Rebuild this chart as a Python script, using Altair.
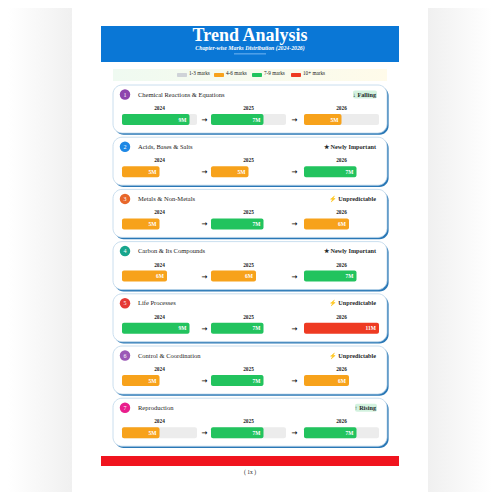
import altair as alt
import pandas as pd

# ---------------- data ----------------
chapters = ["Chemical Reactions & Equations", "Acids, Bases & Salts", "Metals & Non-Metals",
            "Carbon & Its Compounds", "Life Processes", "Control & Coordination", "Reproduction"]
years = ["2024", "2025", "2026"]
marks_2024 = [9, 5, 5, 6, 9, 5, 5]
marks_2025 = [7, 5, 7, 6, 7, 7, 7]
marks_2026 = [5, 7, 6, 7, 11, 6, 7]
trends = ["↓ Falling", "★ Newly Important", "⚡ Unpredictable", "★ Newly Important",
          "⚡ Unpredictable", "⚡ Unpredictable", "↑ Rising"]
badge_colors = ["#8e44ad", "#1e88e5", "#e8672a", "#17a58c", "#e53935", "#9b59b6", "#e91e8c"]
legend_labels = ["1-3 marks", "4-6 marks", "7-9 marks", "10+ marks"]
legend_colors = ["#cfd3d8", "#f7a21b", "#22c35e", "#ee3a22"]
title = "Trend Analysis"
subtitle = "Chapter-wise Marks Distribution (2024-2026)"
footer = "( 1x )"

# ---------------- layout ----------------
XS = alt.Scale(domain=[8, 492])
YS = alt.Scale(domain=[8, 492], reverse=True)
SERIF = "Liberation Serif"
CARD_X0, CARD_X1 = 113, 387
TOP0, STEP, CARD_H = 85, 52.2, 48
BAR_START = [122, 211, 304]
BAR_W = 75
SCALE_MAX = 10
TRACK_ROWS = [0, 6]


def rects(df, **kw):
    return alt.Chart(df).mark_rect(**kw).encode(
        x=alt.X("x:Q", scale=XS, axis=None), x2="x2:Q",
        y=alt.Y("y:Q", scale=YS, axis=None), y2="y2:Q")


def texts(df, **kw):
    return alt.Chart(df).mark_text(**kw).encode(
        x=alt.X("x:Q", scale=XS, axis=None),
        y=alt.Y("y:Q", scale=YS, axis=None),
        text="t:N")


def one(**d):
    return pd.DataFrame([d])


def cat(v):
    if v <= 3:
        return legend_labels[0]
    if v <= 6:
        return legend_labels[1]
    if v <= 9:
        return legend_labels[2]
    return legend_labels[3]


color_scale = alt.Scale(domain=legend_labels, range=legend_colors)

layers = []

# side shading of the page
layers.append(rects(one(x=8, x2=72, y=8, y2=492),
                    color=alt.Gradient(gradient="linear", x1=0, x2=1, y1=0, y2=0,
                                       stops=[alt.GradientStop(color="#ffffff", offset=0),
                                              alt.GradientStop(color="#f0f0f0", offset=1)])))
layers.append(rects(one(x=428, x2=492, y=8, y2=492),
                    color=alt.Gradient(gradient="linear", x1=0, x2=1, y1=0, y2=0,
                                       stops=[alt.GradientStop(color="#f0f0f0", offset=0),
                                              alt.GradientStop(color="#ffffff", offset=1)])))

# header
layers.append(rects(one(x=101, x2=399, y=26, y2=62), color="#0a77d6"))
layers.append(texts(one(x=250, y=36, t=title), font=SERIF, fontSize=18, fontWeight="bold",
                    color="white", baseline="middle"))
layers.append(texts(one(x=250, y=48, t=subtitle), font=SERIF, fontSize=5.8, fontStyle="italic",
                    fontWeight="bold", color="white", baseline="middle"))
layers.append(rects(one(x=234, x2=266, y=53.5, y2=54.3), color="#9fd0ff", opacity=0.9))

# legend
layers.append(rects(one(x=113, x2=387, y=69, y2=81),
                    color=alt.Gradient(gradient="linear", x1=0, x2=1, y1=0, y2=0,
                                       stops=[alt.GradientStop(color="#effaf1", offset=0),
                                              alt.GradientStop(color="#fffbea", offset=1)])))
leg_x = [177, 214, 252, 291]
leg = pd.DataFrame({"x": leg_x, "x2": [v + 10 for v in leg_x], "y": 73, "y2": 77,
                    "lab": legend_labels, "t": legend_labels,
                    "tx": [v + 12 for v in leg_x]})
layers.append(alt.Chart(leg).mark_rect(cornerRadius=1).encode(
    x=alt.X("x:Q", scale=XS, axis=None), x2="x2:Q",
    y=alt.Y("y:Q", scale=YS, axis=None), y2="y2:Q",
    color=alt.Color("lab:N", scale=color_scale, legend=None)))
layers.append(alt.Chart(leg).mark_text(font=SERIF, fontSize=5.2, align="left", baseline="middle",
                                       color="#222").encode(
    x=alt.X("tx:Q", scale=XS, axis=None), y=alt.Y("y:Q", scale=YS, axis=None),
    text="t:N"))

# cards
tops = [TOP0 + STEP * i for i in range(len(chapters))]
cards = pd.DataFrame({"x": CARD_X0, "x2": CARD_X1, "y": tops,
                      "y2": [t + CARD_H for t in tops]})
shadow = cards.assign(x=CARD_X0 + 1.6, x2=CARD_X1 + 1.6,
                      y=[t + 1.8 for t in tops], y2=[t + CARD_H + 1.8 for t in tops])
layers.append(rects(shadow, color="#2a78b6", cornerRadius=9))
layers.append(rects(cards, color="white", stroke="#bcd6ea", strokeWidth=0.8, cornerRadius=9))

# number badges
nums = pd.DataFrame({"x": 125, "y": [t + 9.5 for t in tops],
                     "t": [str(i + 1) for i in range(len(chapters))], "c": badge_colors})
layers.append(alt.Chart(nums).mark_circle(size=110, opacity=1).encode(
    x=alt.X("x:Q", scale=XS, axis=None), y=alt.Y("y:Q", scale=YS, axis=None),
    color=alt.Color("c:N", scale=None)))
layers.append(texts(nums, font=SERIF, fontSize=6, color="white", baseline="middle"))

# chapter titles
tit = pd.DataFrame({"x": 138, "y": [t + 9.5 for t in tops], "t": chapters})
layers.append(texts(tit, font=SERIF, fontSize=6.5, color="#222", align="left", baseline="middle"))

# trend labels
pill_rows = [i for i, s in enumerate(trends) if "Falling" in s or "Rising" in s]
pills = pd.DataFrame({"x": [353 if "Falling" in trends[i] else 355 for i in pill_rows], "x2": 377,
                      "y": [tops[i] + 5.5 for i in pill_rows],
                      "y2": [tops[i] + 13.5 for i in pill_rows]})
layers.append(rects(pills, color="#d3f2df", cornerRadius=2))
tr = pd.DataFrame({"x": 376, "y": [t + 9.5 for t in tops], "t": trends})
layers.append(texts(tr, font=SERIF, fontSize=6.2, fontWeight=600, color="#1f2a2a",
                    align="right", baseline="middle"))

# year labels, tracks, bars
rows = []
for i in range(len(chapters)):
    vals = [marks_2024[i], marks_2025[i], marks_2026[i]]
    for j, v in enumerate(vals):
        x0 = BAR_START[j]
        x1 = x0 + min(v, SCALE_MAX) / SCALE_MAX * BAR_W
        rows.append({"row": i, "year": years[j], "v": v, "x": x0, "x2": x1,
                     "y": tops[i] + 29, "y2": tops[i] + 40, "lab": cat(v),
                     "t": f"{v}M", "tx": x1 - 3, "ty": tops[i] + 34.5,
                     "yx": x0 + BAR_W / 2, "yy": tops[i] + 23,
                     "tx_end": x0 + BAR_W})
bars = pd.DataFrame(rows)

tracks = bars[bars["row"].isin(TRACK_ROWS)].copy()
tracks["x2"] = tracks["tx_end"]
layers.append(rects(tracks, color="#ececec", cornerRadius=2))

layers.append(alt.Chart(bars).mark_rect(cornerRadius=2).encode(
    x=alt.X("x:Q", scale=XS, axis=None), x2="x2:Q",
    y=alt.Y("y:Q", scale=YS, axis=None), y2="y2:Q",
    color=alt.Color("lab:N", scale=color_scale, legend=None)))
layers.append(alt.Chart(bars).mark_text(font=SERIF, fontSize=5.5, fontWeight="bold", color="white",
                                        align="right", baseline="middle").encode(
    x=alt.X("tx:Q", scale=XS, axis=None), y=alt.Y("ty:Q", scale=YS, axis=None), text="t:N"))
layers.append(alt.Chart(bars).mark_text(font=SERIF, fontSize=5.3, fontWeight=600, color="#222",
                                        baseline="middle").encode(
    x=alt.X("yx:Q", scale=XS, axis=None), y=alt.Y("yy:Q", scale=YS, axis=None), text="year:N"))

# arrows
arr = pd.DataFrame([{"x": ax, "y": t + 35, "t": "→"} for t in tops for ax in (204.5, 294.5)])
layers.append(texts(arr, font="DejaVu Sans", fontSize=7, fontWeight="bold", color="#111",
                    baseline="middle"))

# footer
layers.append(rects(one(x=101, x2=399, y=456, y2=466), color="#f0141e"))
layers.append(texts(one(x=250, y=471.5, t=footer), font=SERIF, fontSize=5.5, color="#222",
                    baseline="middle"))

chart = alt.layer(*layers).properties(
    width=484, height=484, padding=0, autosize=alt.AutoSizeParams(type="none"),
    background="white"
).configure_view(stroke=None)

chart.save("out.html", embed_options={"renderer": "svg", "actions": False})
